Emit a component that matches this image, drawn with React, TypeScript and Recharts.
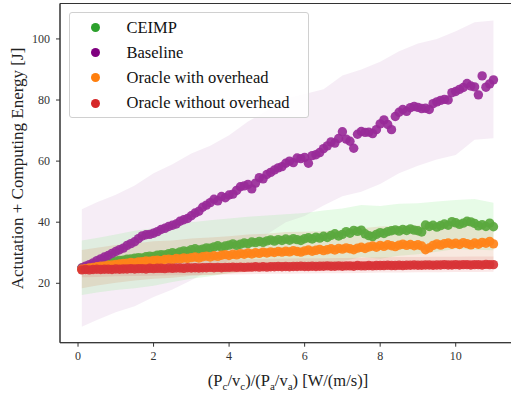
import React from 'react';
import { ComposedChart, XAxis, YAxis, Area, Scatter, ReferenceArea } from 'recharts';

// x positions of the samples (power ratio)
const X_VALUES = [
  0.1, 0.2, 0.3, 0.4, 0.5, 0.6, 0.7, 0.8, 0.9, 1.0,
  1.1, 1.2, 1.3, 1.4, 1.5, 1.6, 1.7, 1.8, 1.9, 2.0,
  2.1, 2.2, 2.3, 2.4, 2.5, 2.6, 2.7, 2.8, 2.9, 3.0,
  3.1, 3.2, 3.3, 3.4, 3.5, 3.6, 3.7, 3.8, 3.9, 4.0,
  4.1, 4.2, 4.3, 4.4, 4.5, 4.6, 4.7, 4.8, 4.9, 5.0,
  5.1, 5.2, 5.3, 5.4, 5.5, 5.6, 5.7, 5.8, 5.9, 6.0,
  6.1, 6.2, 6.3, 6.4, 6.5, 6.6, 6.7, 6.8, 6.9, 7.0,
  7.1, 7.2, 7.3, 7.4, 7.5, 7.6, 7.7, 7.8, 7.9, 8.0,
  8.1, 8.2, 8.3, 8.4, 8.5, 8.6, 8.7, 8.8, 8.9, 9.0,
  9.1, 9.2, 9.3, 9.4, 9.5, 9.6, 9.7, 9.8, 9.9, 10.0,
  10.1, 10.2, 10.3, 10.4, 10.5, 10.6, 10.7, 10.8, 10.9, 11.0,
];

const CEIMP = [
  25.0, 25.3, 25.6, 25.9, 26.1, 26.4, 26.6, 26.9, 27.0, 27.3,
  27.5, 27.6, 27.9, 28.0, 28.2, 28.4, 28.3, 28.7, 28.9, 28.8,
  29.2, 29.4, 29.3, 29.7, 30.0, 29.8, 30.3, 30.6, 30.4, 31.0,
  31.3, 30.9, 31.2, 31.6, 31.5, 31.9, 32.3, 31.8, 32.2, 32.5,
  32.9, 32.4, 32.8, 33.2, 33.0, 33.5, 33.3, 33.7, 33.4, 33.9,
  34.2, 33.8, 34.3, 34.0, 34.5, 34.1, 34.6, 34.3, 34.0, 34.6,
  34.9, 34.5, 35.1, 34.8, 35.4, 35.0, 35.7, 36.2, 35.5, 36.0,
  36.9, 36.4, 37.3, 37.0, 37.4, 36.2, 35.6, 35.3, 36.0, 36.6,
  36.3, 36.9, 37.2, 37.5, 37.1, 37.6, 37.3, 37.8, 37.4, 37.2,
  36.8, 39.1, 38.6, 39.0, 38.4, 38.9, 39.4, 39.0, 40.2, 39.8,
  39.3, 39.7, 40.3, 40.1, 39.6, 38.8, 39.2, 38.6, 39.7, 38.5,
];

const BASELINE = [
  25.0, 25.6, 26.1, 26.7, 27.4, 28.0, 28.6, 29.1, 29.8, 30.4,
  31.0, 31.5, 32.4, 33.0, 33.6, 34.6, 35.5, 35.9, 36.0, 36.4,
  36.9, 37.6, 38.0, 38.6, 39.0, 39.4, 40.3, 40.8, 41.2, 42.1,
  43.0, 43.6, 44.9, 45.6, 46.4, 47.5, 47.0, 48.4, 48.0, 48.9,
  49.2, 50.4, 51.6, 51.9, 52.4, 50.9, 52.8, 54.6, 54.2, 55.6,
  56.3, 57.1, 57.8, 58.2, 59.3, 60.0, 59.5, 61.0, 60.8, 61.2,
  59.3, 61.8, 62.1, 62.8, 64.1, 65.0, 66.3, 65.9, 67.4, 69.6,
  67.2, 66.5, 64.2, 68.8, 69.7, 69.4, 69.5, 69.0, 70.3, 72.2,
  73.5, 72.0, 70.3, 74.6, 76.0, 76.9, 76.3, 77.5, 77.9, 77.6,
  77.2, 77.3, 76.9, 78.8, 79.4, 79.9, 80.2, 80.0, 82.4, 82.8,
  83.5, 84.1, 85.4, 84.6, 84.3, 81.7, 87.9, 84.2, 85.3, 86.6,
];

const ORACLE_WITH = [
  24.6, 24.8, 25.0, 25.2, 25.4, 25.6, 25.7, 25.9, 26.0, 26.2,
  26.3, 26.5, 26.6, 26.8, 26.7, 27.0, 27.1, 27.3, 27.2, 27.5,
  27.6, 27.4, 27.8, 27.9, 27.7, 28.1, 28.0, 28.3, 28.1, 28.4,
  28.6, 28.3, 28.7, 28.9, 28.6, 29.0, 28.8, 29.2, 29.4, 29.1,
  29.5, 29.3, 29.7, 29.5, 29.9, 29.6, 30.0, 29.8, 30.2, 29.9,
  30.3, 30.1, 30.4, 30.2, 30.5, 30.3, 30.7, 30.4, 30.2, 30.6,
  30.9, 30.5, 30.8, 31.1, 30.7, 31.0, 31.3, 30.9, 31.4, 31.2,
  31.6, 31.3, 31.0, 31.5, 31.8, 31.4, 31.9, 32.2, 31.8, 32.4,
  32.1, 32.6, 32.3, 32.0, 32.5, 32.8, 32.4, 32.7, 32.3, 32.6,
  32.2, 31.0, 31.6, 32.4, 32.9, 32.5, 33.0, 33.2, 32.8, 33.1,
  32.7, 33.3, 33.0, 32.6, 33.2, 32.8, 33.4, 33.1, 33.7, 32.9,
];

const ORACLE_WITHOUT = [
  24.4, 24.5, 24.4, 24.5, 24.6, 24.5, 24.6, 24.6, 24.5, 24.7,
  24.6, 24.7, 24.7, 24.8, 24.7, 24.8, 24.8, 24.7, 24.9, 24.8,
  24.9, 24.9, 24.8, 25.0, 24.9, 25.0, 25.0, 24.9, 25.1, 25.0,
  25.1, 25.0, 25.1, 25.1, 25.2, 25.1, 25.2, 25.1, 25.2, 25.2,
  25.3, 25.2, 25.3, 25.2, 25.3, 25.3, 25.4, 25.3, 25.4, 25.3,
  25.4, 25.4, 25.5, 25.4, 25.5, 25.4, 25.5, 25.5, 25.6, 25.5,
  25.5, 25.6, 25.5, 25.6, 25.6, 25.7, 25.6, 25.6, 25.7, 25.6,
  25.7, 25.7, 25.6, 25.8, 25.7, 25.7, 25.8, 25.7, 25.8, 25.8,
  25.8, 25.9, 25.8, 25.8, 25.9, 25.8, 25.9, 25.9, 26.0, 25.9,
  25.9, 26.0, 26.0, 25.9, 26.0, 26.0, 26.1, 26.0, 26.0, 26.1,
  26.0, 26.1, 26.1, 26.0, 26.1, 26.1, 26.0, 26.2, 26.1, 26.1,
];

// spread bands, sampled on a coarser grid
const BAND_X = [0.1, 0.5, 1.0, 1.5, 2.0, 2.5, 3.0, 3.5, 4.0, 4.5, 5.0, 5.5, 6.0, 6.5, 7.0, 7.5, 8.0, 8.5, 9.0, 9.5, 10.0, 10.5, 11.0];
const BASELINE_HI = [44.2, 46.5, 49.0, 52.0, 56.0, 59.0, 62.5, 65.0, 68.5, 73.0, 76.5, 80.5, 82.0, 83.5, 88.0, 90.0, 92.5, 96.0, 98.5, 100.0, 102.5, 105.5, 106.0];
const BASELINE_LO = [5.8, 8.0, 10.5, 12.5, 15.5, 18.0, 21.0, 24.5, 27.5, 31.0, 36.0, 40.0, 42.0, 45.5, 48.5, 50.0, 52.5, 56.0, 58.5, 60.5, 62.0, 67.0, 67.5];
const CEIMP_HI = [34.0, 34.8, 36.0, 37.2, 38.0, 39.2, 40.0, 40.6, 41.2, 41.8, 42.2, 42.6, 43.0, 43.8, 44.5, 45.6, 45.3, 46.0, 46.2, 46.8, 47.3, 47.6, 46.4];
const CEIMP_LO = [16.2, 17.0, 17.8, 18.4, 19.2, 20.4, 21.5, 22.3, 23.4, 24.0, 25.0, 25.5, 25.8, 26.6, 27.2, 28.6, 28.0, 29.0, 29.5, 30.3, 31.2, 31.0, 30.8];
const WITH_HI = [30.9, 31.6, 32.5, 33.0, 33.8, 34.0, 34.7, 35.0, 35.4, 36.0, 36.2, 36.8, 36.9, 37.0, 37.5, 38.0, 38.6, 38.8, 38.9, 39.2, 39.4, 39.5, 39.2];
const WITH_LO = [18.4, 19.3, 20.2, 20.9, 21.5, 21.8, 22.5, 22.7, 23.2, 23.8, 24.0, 24.5, 24.8, 24.8, 25.3, 25.7, 26.4, 26.6, 26.8, 27.1, 27.4, 27.7, 27.6];
const WITHOUT_HI = [26.9, 27.1, 27.2, 27.3, 27.4, 27.5, 27.6, 27.7, 27.8, 27.9, 28.0, 28.1, 28.2, 28.2, 28.3, 28.4, 28.5, 28.6, 28.6, 28.7, 28.7, 28.8, 28.8];
const WITHOUT_LO = [22.0, 22.1, 22.3, 22.4, 22.5, 22.6, 22.7, 22.8, 22.9, 23.0, 23.1, 23.1, 23.2, 23.3, 23.3, 23.4, 23.5, 23.5, 23.6, 23.6, 23.7, 23.7, 23.8];

const X_TICKS = [0, 2, 4, 6, 8, 10];
const Y_TICKS = [20, 40, 60, 80, 100];

const FONT = '"Liberation Serif", "DejaVu Serif", serif';

// dot = colour of the scattered markers (slightly washed by the bands drawn on top in the original)
const SERIES = [
  { name: 'CEIMP', color: '#2ca02c', dot: '#5aa83e', values: CEIMP },
  { name: 'Baseline', color: '#800080', dot: '#982a98', values: BASELINE },
  { name: 'Oracle with overhead', color: '#ff7f0e', dot: '#ff8319', values: ORACLE_WITH },
  { name: 'Oracle without overhead', color: '#d62728', dot: '#d83336', values: ORACLE_WITHOUT },
];

const bandData = BAND_X.map((x, i) => ({
  x,
  baseline: [BASELINE_LO[i], BASELINE_HI[i]],
  ceimp: [CEIMP_LO[i], CEIMP_HI[i]],
  withOh: [WITH_LO[i], WITH_HI[i]],
  withoutOh: [WITHOUT_LO[i], WITHOUT_HI[i]],
}));

const toPoints = (vals: number[]) => X_VALUES.map((x, i) => ({ x, y: vals[i] }));

const dot = (color: string) => (p: any) => (
  <circle cx={p.cx} cy={p.cy} r={4.7} fill={color} fillOpacity={0.92} />
);

const XTick = (p: any) => (
  <text x={p.x} y={p.y + 9} textAnchor="middle" fontSize={12} fontFamily={FONT} fill="#333">
    {p.payload.value}
  </text>
);

const YTick = (p: any) => (
  <text x={p.x} y={p.y + 4} textAnchor="end" fontSize={12} fontFamily={FONT} fill="#333">
    {p.payload.value}
  </text>
);

const X_DOMAIN = [-0.477, 11.554];
const Y_DOMAIN = [0.55, 111.6];

export default function App() {
  return (
    <div style={{ position: 'fixed', left: 0, top: 0, width: 511, height: 393, overflow: 'hidden', background: '#fff', fontFamily: FONT }}>
      <ComposedChart width={520} height={393} data={bandData} margin={{ top: 3.5, right: 5.6, bottom: 0, left: 0 }}>
        <XAxis
          type="number"
          dataKey="x"
          domain={X_DOMAIN}
          ticks={X_TICKS}
          allowDataOverflow
          height={50.3}
          tick={XTick}
          tickSize={4}
          tickMargin={4}
          stroke="#333"
        />
        <YAxis
          type="number"
          domain={Y_DOMAIN}
          ticks={Y_TICKS}
          allowDataOverflow
          width={60}
          tick={YTick}
          tickSize={4}
          tickMargin={6}
          stroke="#333"
        />
        <Area dataKey="baseline" type="linear" stroke="none" fill="#800080" fillOpacity={0.07} isAnimationActive={false} dot={false} activeDot={false} />
        <Area dataKey="ceimp" type="linear" stroke="none" fill="#90ee90" fillOpacity={0.22} isAnimationActive={false} dot={false} activeDot={false} />
        <Area dataKey="withOh" type="linear" stroke="none" fill="#d2783c" fillOpacity={0.16} isAnimationActive={false} dot={false} activeDot={false} />
        <Area dataKey="withoutOh" type="linear" stroke="none" fill="#d62728" fillOpacity={0.1} isAnimationActive={false} dot={false} activeDot={false} />
        {SERIES.map(s => (
          <Scatter key={s.name} name={s.name} data={toPoints(s.values)} dataKey="y" shape={dot(s.dot)} isAnimationActive={false} />
        ))}
        <ReferenceArea x1={X_DOMAIN[0]} x2={X_DOMAIN[1]} y1={Y_DOMAIN[0]} y2={Y_DOMAIN[1]} fill="none" stroke="#333" strokeWidth={1} ifOverflow="visible" />
      </ComposedChart>

      <svg width={511} height={393} style={{ position: 'absolute', left: 0, top: 0, pointerEvents: 'none' }}>
        <text x={23} y={168.5} transform="rotate(-90 23 168.5)" textAnchor="middle" fontSize={17} fontFamily={FONT} fill="#222">
          Actutation + Computing Energy [J]
        </text>
        <text x={288} y={386} textAnchor="middle" fontSize={16.5} fontFamily={FONT} fill="#222">
          (P<tspan fontSize={11} dy={4}>c</tspan>
          <tspan dy={-4}>/v</tspan><tspan fontSize={11} dy={4}>c</tspan>
          <tspan dy={-4}>)/(P</tspan><tspan fontSize={11} dy={4}>a</tspan>
          <tspan dy={-4}>/v</tspan><tspan fontSize={11} dy={4}>a</tspan>
          <tspan dy={-4}>) [W/(m/s)]</tspan>
        </text>
      </svg>

      <div
        style={{
          position: 'absolute', left: 68.5, top: 11.5, width: 240, height: 106, boxSizing: 'border-box',
          border: '1px solid #d0d0d0', borderRadius: 3, background: 'rgba(255,255,255,0.85)',
          fontFamily: FONT, fontSize: 16.5, color: '#111',
        }}
      >
        {SERIES.map((s, i) => (
          <div key={s.name} style={{ position: 'absolute', left: 0, top: 4 + i * 25.2, height: 22, display: 'flex', alignItems: 'center', whiteSpace: 'nowrap' }}>
            <span style={{ display: 'inline-block', width: 9, height: 9, borderRadius: '50%', background: s.color, marginLeft: 21, marginRight: 27 }} />
            <span>{s.name}</span>
          </div>
        ))}
      </div>
    </div>
  );
}
